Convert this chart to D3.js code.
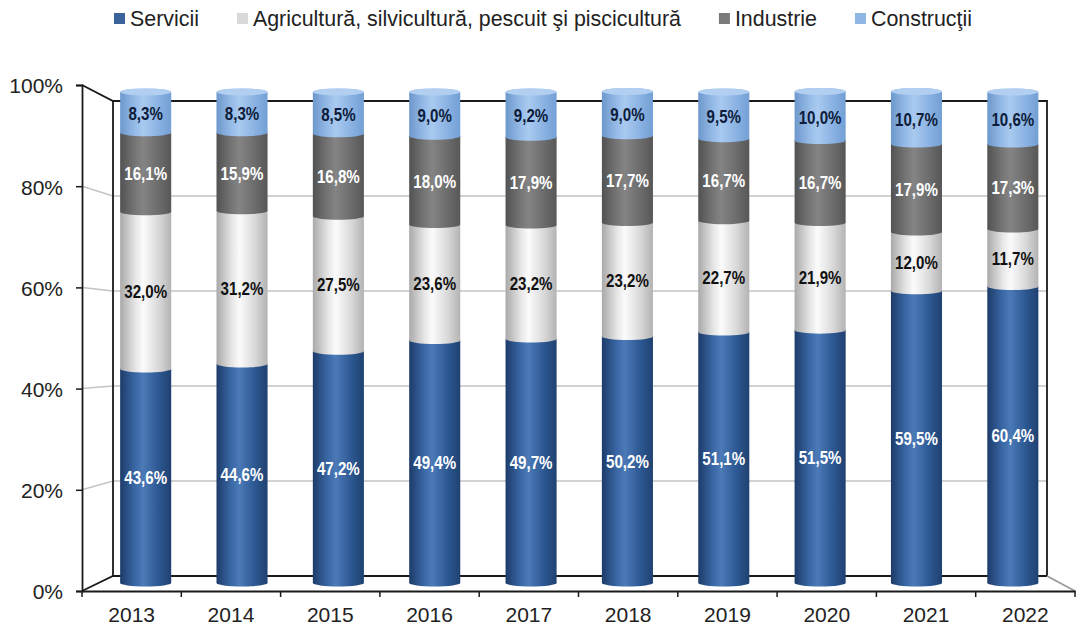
<!DOCTYPE html>
<html>
<head>
<meta charset="utf-8">
<script src="https://cdn.jsdelivr.net/npm/d3@7"></script>
<style>
  body { margin: 0; background: #fff; }
  svg { display: block; font-family: "Liberation Sans", Arial, sans-serif; }
</style>
</head>
<body>
<svg id="SVG_CONTAINER" width="1080" height="627"></svg>
<script>
// data
const years = ["2013", "2014", "2015", "2016", "2017", "2018", "2019", "2020", "2021", "2022"];
const servicii    = [43.6, 44.6, 47.2, 49.4, 49.7, 50.2, 51.1, 51.5, 59.5, 60.4];
const agricultura = [32.0, 31.2, 27.5, 23.6, 23.2, 23.2, 22.7, 21.9, 12.0, 11.7];
const industrie   = [16.1, 15.9, 16.8, 18.0, 17.9, 17.7, 16.7, 16.7, 17.9, 17.3];
const constructii = [8.3, 8.3, 8.5, 9.0, 9.2, 9.0, 9.5, 10.0, 10.7, 10.6];
const seriesNames = ["Servicii", "Agricultură, silvicultură, pescuit şi piscicultură", "Industrie", "Construcţii"];
const yTicks = [0, 20, 40, 60, 80, 100];

const width = 1080, height = 627;

// 3d box corners: front plane and back wall
const FRONT = { LEFT: 82, RIGHT: 1075, BOTTOM: 591, TOP: 85 };
const BACK  = { LEFT: 113, RIGHT: 1047, BOTTOM: 576, TOP: 101 };

const svg = d3.select("#SVG_CONTAINER");

// rows for the stack
const keys = ["s", "a", "i", "c"];
const rows = years.map((y, k) => ({ year: y, s: servicii[k], a: agricultura[k], i: industrie[k], c: constructii[k] }));
const stacked = d3.stack().keys(keys)(rows);

const styles = {
  s: { stops: ["#1d3b68", "#3b69a7", "#4b7ab7", "#2d5892", "#1f4170"], label: "#ffffff" },
  a: { stops: ["#a9a9a9", "#e6e6e6", "#fbfbfb", "#d9d9d9", "#b3b3b3"], label: "#111111" },
  i: { stops: ["#525252", "#767676", "#848484", "#6c6c6c", "#575757"], label: "#ffffff" },
  c: { stops: ["#6d98cc", "#97bce8", "#a9caf0", "#8ab2e2", "#739fd4"], label: "#0d1c3a" }
};
const capColor = "#b2cff2";
const legendColors = { s: "#3a629b", a: "#d9d9d9", i: "#7a7a7a", c: "#8fb7e6" };

// scales
const yFront = d3.scaleLinear().domain([0, 100]).range([FRONT.BOTTOM, FRONT.TOP]);
const yBack  = d3.scaleLinear().domain([0, 100]).range([BACK.BOTTOM, BACK.TOP]);
const yCyl   = d3.scaleLinear().domain([0, 100]).range([583, 92]);

const xFront = d3.scaleBand().domain(years).range([FRONT.LEFT, FRONT.RIGHT]).padding(0);
const xCyl   = d3.scaleBand().domain(years)
  .range([(FRONT.LEFT + BACK.LEFT) / 2, (FRONT.RIGHT + BACK.RIGHT) / 2])
  .paddingInner(0.47).paddingOuter(0.235);

// gradients
const defs = svg.append("defs");
keys.forEach(function (k) {
  const g = defs.append("linearGradient").attr("id", "grad_" + k)
    .attr("x1", "0%").attr("x2", "100%").attr("y1", "0%").attr("y2", "0%");
  const offs = [0, 0.3, 0.45, 0.75, 1];
  styles[k].stops.forEach((c, j) => g.append("stop").attr("offset", offs[j]).attr("stop-color", c));
});

// walls and grid
const grid = svg.append("g").attr("class", "grid");
yTicks.filter(t => t > 0 && t < 100).forEach(function (t) {
  grid.append("polyline")
    .attr("points", [[FRONT.LEFT, yFront(t)], [BACK.LEFT, yBack(t)], [BACK.RIGHT, yBack(t)]].join(" "))
    .attr("fill", "none").attr("stroke", "#c4c4c4").attr("stroke-width", 1.5);
});

const frame = svg.append("g").attr("class", "frame")
  .attr("fill", "none").attr("stroke", "#1a1a1a").attr("stroke-width", 1.8);
frame.append("polyline")
  .attr("points", [[FRONT.LEFT, yFront(100)], [BACK.LEFT, yBack(100)], [BACK.RIGHT, yBack(100)], [BACK.RIGHT, yBack(0)]].join(" "));
frame.append("line").attr("x1", BACK.LEFT).attr("y1", yBack(100)).attr("x2", BACK.LEFT).attr("y2", yBack(0));
frame.append("polyline")
  .attr("points", [[FRONT.LEFT, yFront(0)], [BACK.LEFT, yBack(0)], [BACK.RIGHT, yBack(0)]].join(" "));
svg.append("line")
  .attr("x1", BACK.RIGHT).attr("y1", yBack(0)).attr("x2", FRONT.RIGHT).attr("y2", yFront(0))
  .attr("stroke", "#9a9a9a").attr("stroke-width", 1.8);

// cylinders
const rx = xCyl.bandwidth() / 2, ry = 3.5;
function segPath(cx, y0, y1) {
  return "M" + (cx - rx) + "," + y1 +
    " L" + (cx - rx) + "," + y0 +
    " A" + rx + "," + ry + " 0 0 0 " + (cx + rx) + "," + y0 +
    " L" + (cx + rx) + "," + y1 +
    " A" + rx + "," + ry + " 0 0 0 " + (cx - rx) + "," + y1 + " Z";
}

const bars = svg.append("g").attr("class", "cylinders");
stacked.forEach(function (layer) {
  bars.selectAll(null)
    .data(layer)
    .enter()
    .append("path")
    .attr("d", d => segPath(xCyl(d.data.year) + rx, yCyl(d[0]), yCyl(d[1])))
    .attr("fill", "url(#grad_" + layer.key + ")");
});
// top caps
const topLayer = stacked[stacked.length - 1];
bars.selectAll(null)
  .data(topLayer)
  .enter()
  .append("ellipse")
  .attr("cx", d => xCyl(d.data.year) + rx)
  .attr("cy", d => yCyl(d[1]))
  .attr("rx", rx).attr("ry", ry)
  .attr("fill", capColor);

// value labels
const labels = svg.append("g").attr("class", "labels");
stacked.forEach(function (layer) {
  labels.selectAll(null)
    .data(layer)
    .enter()
    .append("text")
    .attr("transform", d => "translate(" + (xCyl(d.data.year) + rx) + "," + (yCyl((d[0] + d[1]) / 2) + 3) + ") scale(0.84,1)")
    .attr("text-anchor", "middle")
    .attr("dominant-baseline", "middle")
    .attr("font-size", "18px")
    .attr("font-weight", "bold")
    .attr("fill", styles[layer.key].label)
    .text(d => d3.format(".1f")(d[1] - d[0]).replace(".", ",") + "%");
});

// y axis
const yAxis = d3.axisLeft(yFront)
  .tickValues(yTicks)
  .tickSize(6)
  .tickPadding(13)
  .tickFormat(d => d + "%");
const gy = svg.append("g")
  .attr("transform", "translate(" + FRONT.LEFT + ",0)")
  .call(yAxis);
gy.select(".domain").attr("stroke", "#1a1a1a").attr("stroke-width", 1.8);
gy.selectAll(".tick line").attr("stroke", "#1a1a1a").attr("stroke-width", 1.5);
gy.selectAll(".tick text")
  .style("font", "21px 'Liberation Sans', Arial, sans-serif")
  .attr("fill", "#222").attr("dy", "0.38em");

// x axis
const xAxis = d3.axisBottom(xFront).tickSize(0).tickPadding(16);
const gx = svg.append("g")
  .attr("transform", "translate(0," + FRONT.BOTTOM + ")")
  .call(xAxis);
gx.select(".domain").attr("stroke", "#1a1a1a").attr("stroke-width", 1.8);
gx.selectAll(".tick text")
  .style("font", "21px 'Liberation Sans', Arial, sans-serif")
  .attr("fill", "#222");
const bounds = years.map(y => xFront(y)).concat([FRONT.RIGHT]);
gx.selectAll(".bound")
  .data(bounds)
  .enter()
  .append("line")
  .attr("class", "bound")
  .attr("x1", d => d).attr("x2", d => d)
  .attr("y1", 0).attr("y2", 6)
  .attr("stroke", "#1a1a1a").attr("stroke-width", 1.5);

// legend
const legend = svg.append("g").attr("class", "legend");
const items = legend.selectAll("g")
  .data(keys)
  .enter()
  .append("g");
items.append("rect")
  .attr("width", 11).attr("height", 11)
  .attr("y", 13)
  .attr("fill", k => legendColors[k]);
items.append("text")
  .attr("x", 16).attr("y", 26)
  .attr("font-size", "21.4px")
  .attr("fill", "#222")
  .text((k, i) => seriesNames[i]);
let xPos = 0;
const gap = 38;
items.each(function () {
  const w = 16 + d3.select(this).select("text").node().getComputedTextLength();
  d3.select(this).attr("transform", "translate(" + xPos + ",0)");
  xPos += w + gap;
});
const totalW = xPos - gap;
legend.attr("transform", "translate(" + (543 - totalW / 2) + ",0)");
</script>
</body>
</html>
